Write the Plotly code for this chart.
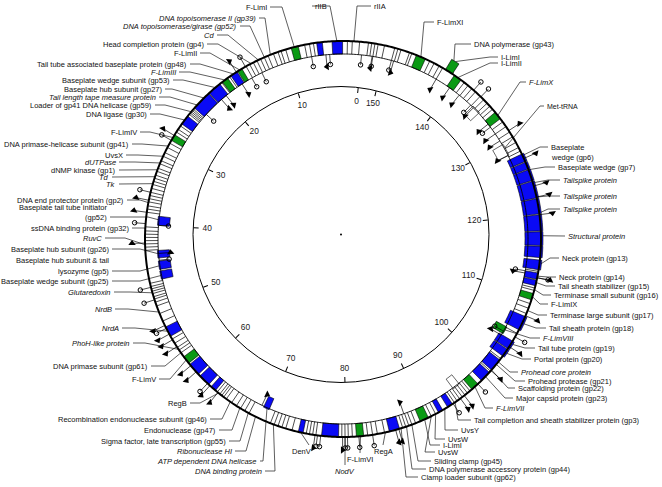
import numpy as np
import plotly.graph_objects as go

W, H = 662, 487
GENOME_KB = 153.0
ZERO_CW_DEG = 6.7  # where 0 kb sits, degrees clockwise from 12 o'clock

RING_CX, RING_CY, RING_RP = 343, 239, 236
SCALE_CX, SCALE_CY, SCALE_R = 341, 234.5, 148
TRACKS = {"inner": (174, 186), "mid": (185, 198), "outer": (198, 210), "wide": (182, 200)}
FONT = "Liberation Sans, Arial, sans-serif"
BLUE, GREEN = "#0a0af5", "#0a9a14"

# ---------------- data (kb) ----------------
SCALE_TICKS = [0, 10, 20, 30, 40, 50, 60, 70, 80, 90, 100, 110, 120, 130, 140, 150]

BLUE_START = [2.9, 5.4, 16.6, 19.2, 21.0, 24.8, 38.1, 42.6, 44.0, 45.3, 52.3, 57.8, 59.7, 61.6,
              68.6, 73.8, 76.7, 85.1, 91.6, 92.9, 98.2, 100.0, 102.2, 103.3, 106.0, 111.8, 112.6,
              113.8, 115.3, 116.8, 118.6, 120.7, 122.7, 124.9, 126.4, 127.4]
BLUE_END = [4.2, 6.1, 17.5, 20.9, 23.5, 26.0, 39.3, 43.6, 45.1, 46.4, 53.6, 59.4, 61.2, 62.3,
            69.4, 74.4, 78.8, 86.4, 92.2, 93.6, 99.6, 101.6, 103.2, 104.4, 107.8, 112.5, 113.4,
            115.0, 116.7, 118.5, 120.6, 122.6, 124.8, 126.3, 127.3, 128.4]
BLUE_TRACK = ["mid", "mid", "mid", "mid", "mid", "mid", "inner", "inner", "inner", "inner", "mid",
              "mid", "mid", "mid", "inner", "mid", "mid", "mid", "mid", "mid", "mid", "mid", "wide",
              "wide", "wide", "mid", "mid", "wide", "wide", "wide", "wide", "wide", "wide", "wide",
              "wide", "wide"]

GREEN_START = [8.4, 15.9, 18.0, 27.6, 56.6, 81.0, 89.1, 96.6, 104.6, 110.0, 133.5, 140.3, 141.6, 145.4]
GREEN_END = [9.3, 16.5, 18.8, 28.4, 57.6, 81.9, 90.2, 97.6, 105.6, 110.8, 134.5, 141.3, 142.6, 146.6]
GREEN_TRACK = ["mid", "mid", "mid", "mid", "mid", "mid", "mid", "mid", "inner", "mid", "mid",
               "mid", "outer", "mid"]

WHITE_START = [129.0, 135.8, 94.8]
WHITE_END = [130.6, 137.0, 95.8]

BOUNDARIES = [0.8, 1.7, 2.3, 6.5, 7.0, 7.6, 10.0, 10.6, 11.0, 11.6, 12.3, 12.8, 13.3, 13.8, 14.3,
              14.8, 15.3, 17.7, 18.9, 23.7, 23.9, 24.1, 24.3, 24.5, 26.3, 26.8, 27.2, 28.8, 29.4,
              30.1, 30.6, 31.2, 31.6, 32.2, 32.6, 33.1, 33.5, 33.9, 34.3, 34.8, 35.3, 35.7, 36.1,
              36.5, 37.0, 37.4, 37.8, 39.6, 40.1, 40.5, 40.9, 41.3, 41.7, 42.1, 42.5, 46.6, 47.0,
              47.3, 47.6, 47.9, 48.3, 48.6, 49.0, 49.5, 50.5, 51.5, 54.0, 54.6, 55.2, 55.6, 56.0,
              62.6, 63.0, 63.3, 63.6, 64.0, 64.8, 65.5, 66.1, 66.7, 67.3, 70.2, 70.7, 71.2, 71.7,
              72.2, 73.0, 74.8, 75.2, 75.6, 76.0, 79.2, 79.6, 80.0, 80.5, 82.4, 83.0, 83.6, 84.5,
              86.8, 87.2, 87.6, 88.0, 88.5, 90.6, 91.2, 93.9, 94.3, 94.7, 95.1, 95.5, 95.9, 96.3,
              99.8, 101.8, 105.5, 108.2, 108.9, 109.5, 111.2, 111.5, 113.6, 128.8, 129.3, 130.0,
              130.8, 131.5, 132.3, 133.0, 135.0, 135.5, 136.0, 136.6, 137.2, 138.0, 138.6, 139.2,
              139.8, 143.0, 143.5, 144.2, 144.8, 147.2, 147.5, 148.6, 149.0, 149.4, 150.7, 151.5,
              151.9, 152.3, 152.7]

PROMOTER_KB = [5.1, 16.9, 19.5, 20.3, 43.0, 68.3, 87.5, 104.3, 113.1, 129.0, 131.2, 132.3, 133.9,
               136.8, 139.3, 140.9, 143.0, 149.1, 152.0,
               16.7, 27.7, 36.3, 37.8, 41.6, 52.1, 53.3, 54.1, 55.1, 58.0, 59.0, 61.4, 62.7, 75.9,
               79.3, 85.9, 86.3, 94.8, 95.4, 99.9, 103.6, 107.9, 112.8, 120.6, 122.8, 124.2, 127.8,
               131.7]
PROMOTER_SIDE = ["in"] * 19 + ["out"] * 28
PROMOTER_DIR = [1, -1, -1, 1, -1, 1, 1, 1, -1, 1, 1, 1, 1, 1, 1, 1, 1, -1, 1,
                -1, -1, -1, -1, -1, 1, 1, 1, 1, 1, 1, 1, 1, 1, 1, -1, -1, 1, 1, 1, 1, 1, 1, -1,
                -1, -1, -1, 1]

TERMINATOR_KB = [0.4, 4.6, 7.0, 13.9, 15.4, 149.4, 151.9, 23.1, 39.3, 43.9, 113.4, 104.9, 133.4,
                 137.3,
                 15.4, 28.4, 35.3, 39.2, 47.1, 48.7, 52.5, 61.0, 76.2, 76.6, 79.6, 79.9, 81.3, 83.0,
                 97.6, 112.8, 105.0, 93.7, 138.3, 137.1]
TERMINATOR_SIDE = ["in"] * 14 + ["out"] * 20

# labels: text, target kb, target track
LABEL_TEXT = [
    "<i>DNA topoisomerase II (gp39)</i>", "<i>DNA topoisomerase/girase (gp52)</i>", "<i>Cd</i>",
    "Head completion protein (gp4)", "F-LimII", "Tail tube associated baseplate protein (gp48)",
    "<i>F-LimIII</i>", "Baseplate wedge subunit (gp53)", "Baseplate hub subunit (gp27)",
    "<i>Tail length tape measure protein</i>", "Loader of gp41 DNA helicase (gp59)",
    "DNA ligase (gp30)", "F-LimIV", "DNA primase-helicase subunit (gp41)", "UvsX",
    "<i>dUTPase</i>", "dNMP kinase (gp1)", "<i>Td</i>", "<i>Tk</i>",
    "DNA end protector protein (gp2)", "(gp52)", "ssDNA binding protein (gp32)", "<i>RuvC</i>",
    "Baseplate hub subunit (gp26)", "lysozyme (gp5)", "Baseplate wedge subunit (gp25)",
    "<i>Glutaredoxin</i>", "<i>NrdB</i>", "<i>NrdA</i>", "<i>PhoH-like protein</i>",
    "DNA primase subunit (gp61)", "F-LimV", "RegB", "Recombination endonuclease subunit (gp46)",
    "Endonuclease (gp47)", "Sigma factor, late transcription (gp55)", "<i>Ribonuclease HI</i>",
    "<i>ATP dependent DNA helicase</i>", "<i>DNA binding protein</i>",
    "DenV", "<i>NodV</i>", "F-LimVI", "RegA",
    "Clamp loader subunit (gp62)", "DNA polymerase accessory protein (gp44)",
    "Sliding clamp (gp45)", "UvsW", "I-LimI", "UvsW", "UvsY",
    "Tail completion and sheath stabilizer protein (gp3)", "<i>F-LimVII</i>",
    "Major capsid protein (gp23)", "Scaffolding protein (gp22)", "Prohead protease (gp21)",
    "<i>Prohead core protein</i>", "Portal protein (gp20)", "Tail tube protein (gp19)",
    "<i>F-LimVIII</i>", "Tail sheath protein (gp18)", "Terminase large subunit (gp17)", "F-LimIX",
    "Terminase small subunit (gp16)", "Tail sheath stabilizer (gp15)", "Neck protein (gp14)",
    "Neck protein (gp13)", "<i>Structural protein</i>", "<i>Tailspike protein</i>",
    "<i>Tailspike protein</i>", "<i>Tailspike protein</i>", "Baseplate wedge (gp7)", "Baseplate",
    "Met-tRNA", "<i>F-LimX</i>", "I-LimII", "I-LimI", "DNA polymerase (gp43)", "F-LimXI",
    "rIIA", "rIIB", "F-LimI"]
LABEL_KB = [12.0, 12.8, 13.6, 14.6, 16.2, 17.1, 18.4, 19.9, 21.8, 23.0, 24.1, 25.4, 28.0, 29.2,
            30.6, 31.5, 32.4, 33.3, 34.2, 36.6, 38.6, 39.9, 41.8, 43.1, 44.6, 45.9, 47.8, 50.3,
            52.9, 55.5, 56.0, 57.1, 62.8, 64.6, 66.0, 67.2, 68.2, 69.0, 70.6,
            74.1, 79.6, 81.5, 84.6,
            86.6, 87.3, 88.0, 90.6, 89.7, 91.2, 92.5, 94.0, 97.1, 98.9, 100.0, 100.9, 101.3,
            102.7, 104.0, 105.1, 106.9, 108.6, 110.4, 111.3, 112.2, 113.0, 114.4, 118.0, 120.8,
            122.8, 124.6, 126.3, 128.2, 130.0, 134.0, 140.8, 142.1, 141.5, 146.0,
            1.5, 3.6, 8.9]
LABEL_TRACK = ["mid"] * 20 + ["inner", "mid", "mid", "inner", "inner", "inner"] + ["mid"] * 11 + \
              ["inner", "mid"] + ["mid"] * 4 + ["mid"] * 15 + ["inner"] + ["mid"] * 13 + \
              ["inner", "mid", "mid", "outer", "mid", "mid", "mid", "mid", "mid"]

# label layout (pixel positions, side: L = text ends at x, R = text starts at x, B = centred)
LABEL_X = [257, 238, 215, 205, 198, 188, 177, 171, 163, 157, 153, 148, 138, 130, 124, 117, 117,
           110, 117, 125, 108, 130, 103, 110, 110, 110, 112, 113, 120, 131, 149, 157, 188, 208,
           217, 227, 233, 258, 263,
           301, 345, 360, 383,
           420, 428, 433, 437, 442, 447, 460, 473, 495, 515, 517, 527, 520, 533, 537, 542, 548,
           549, 550, 553, 557, 558, 561, 567, 562, 562, 562, 557, 550, 546, 528, 500, 500, 473,
           436, 373, 314, 268]
LABEL_Y = [18, 26, 35, 44, 53, 64, 72, 80, 89, 97, 105, 114, 132, 144, 155, 162, 170, 177, 184,
           200, 217, 228, 238, 249, 271, 281, 292, 309, 328, 343, 366, 379, 403, 419, 430, 441,
           451, 461, 471,
           451, 471, 459, 451,
           477, 469, 461, 452, 445, 439, 430, 420, 408, 398, 388, 381, 372, 359, 348, 338, 328,
           315, 304, 295, 286, 277, 258, 236, 209, 196, 180, 167, 147, 106, 82, 63, 57, 44, 22,
           6, 6, 7]
LABEL_SIDE = ["L"] * 39 + ["B"] * 4 + ["R"] * 36 + ["R", "L", "L"]
LABEL_ELBOW = [265, 250, 228, 218, 210, 200, 190, 183, 172, 170, 165, 160, 150, 142, 138, 135, 135,
               130, 130, 140, 148, 145, 125, 140, 140, 140, 130, 128, 135, 145, 165, 170, 200, 222,
               232, 240, 246, 263, 275,
               309, 345, 360, 383,
               406, 412, 418, 425, 430, 435, 445, 458, 485, 505, 508, 515, 510, 522, 525, 530, 536,
               538, 540, 543, 546, 548, 550, 550, 548, 548, 548, 545, 540, 540, 520, 490, 490, 455,
               424, 357, 330, 282]

EXTRA_TEXT = ["Baseplate tail tube initiator", "Baseplate hub subunit & tail", "wedge (gp6)"]
EXTRA_X = [108, 110, 550]
EXTRA_Y = [207, 260, 157]
EXTRA_SIDE = ["L", "L", "R"]


# ---------------- helpers ----------------
def deg(kb):
    return np.asarray(kb, dtype=float) * 360.0 / GENOME_KB


def ring_xy(kb, r):
    a = np.radians(ZERO_CW_DEG - kb * 360.0 / GENOME_KB)
    return RING_CX + r * np.sin(a), RING_CY - r * np.cos(a)


def domain(cx, cy, r):
    return dict(x=[(cx - r) / W, (cx + r) / W], y=[(H - cy - r) / H, (H - cy + r) / H])


def bars(starts, ends, tracks, color, name):
    s, e = np.asarray(starts), np.asarray(ends)
    base = [TRACKS[t][0] for t in tracks]
    length = [TRACKS[t][1] - TRACKS[t][0] for t in tracks]
    return go.Barpolar(theta=deg((s + e) / 2), width=deg(e - s), base=base, r=length,
                       marker=dict(color=color, line=dict(color="black", width=0.6)),
                       subplot="polar", name=name, hoverinfo="skip", showlegend=False)


fig = go.Figure()

# ring circles
circ = np.linspace(0, 360, 721)
fig.add_trace(go.Scatterpolar(r=[TRACKS["mid"][1]] * len(circ), theta=circ, mode="lines",
                              line=dict(color="black", width=2), subplot="polar",
                              showlegend=False, hoverinfo="skip"))
fig.add_trace(go.Scatterpolar(r=[TRACKS["mid"][0]] * len(circ), theta=circ, mode="lines",
                              line=dict(color="black", width=0.9), subplot="polar",
                              showlegend=False, hoverinfo="skip"))

# gene boundaries
bt, br = [], []
for b in BOUNDARIES:
    bt += [float(deg(b)), float(deg(b)), None]
    br += [TRACKS["mid"][0], TRACKS["mid"][1], None]
fig.add_trace(go.Scatterpolar(r=br, theta=bt, mode="lines", line=dict(color="black", width=0.7),
                              subplot="polar", showlegend=False, hoverinfo="skip", connectgaps=False))

fig.add_trace(bars(WHITE_START, WHITE_END, ["inner"] * len(WHITE_START), "white", "other"))
fig.add_trace(bars(BLUE_START, BLUE_END, BLUE_TRACK, BLUE, "structural"))
fig.add_trace(bars(GREEN_START, GREEN_END, GREEN_TRACK, GREEN, "homing endonuclease"))

# promoters / terminators with stalks
def stalks(kbs, sides, r_in_mark, r_out_mark):
    th, rr, mr = [], [], []
    for k, s in zip(kbs, sides):
        t = float(deg(k))
        if s == "in":
            th += [t, t, None]; rr += [TRACKS["mid"][0], r_in_mark, None]; mr.append(r_in_mark)
        else:
            th += [t, t, None]; rr += [TRACKS["mid"][1], r_out_mark, None]; mr.append(r_out_mark)
    return th, rr, mr

pt, pr, pm = stalks(PROMOTER_KB, PROMOTER_SIDE, 173, 211)
tt, tr, tm = stalks(TERMINATOR_KB, TERMINATOR_SIDE, 175, 209)
fig.add_trace(go.Scatterpolar(r=pr + tr, theta=pt + tt, mode="lines",
                              line=dict(color="black", width=0.7), subplot="polar",
                              showlegend=False, hoverinfo="skip"))
p_angle = [ZERO_CW_DEG - float(deg(k)) - 90 * d for k, d in zip(PROMOTER_KB, PROMOTER_DIR)]
fig.add_trace(go.Scatterpolar(r=pm, theta=deg(PROMOTER_KB), mode="markers",
                              marker=dict(symbol="triangle-up", size=6.5, color="black",
                                          angle=p_angle),
                              subplot="polar", showlegend=False, hoverinfo="skip"))
fig.add_trace(go.Scatterpolar(r=tm, theta=deg(TERMINATOR_KB), mode="markers",
                              marker=dict(symbol="circle-open", size=4.5, color="black",
                                          line=dict(width=1)),
                              subplot="polar", showlegend=False, hoverinfo="skip"))

# scale circle labels and centre dot
fig.add_trace(go.Scatterpolar(r=[SCALE_R - 14] * len(SCALE_TICKS), theta=deg(SCALE_TICKS),
                              mode="text", text=[str(t) for t in SCALE_TICKS],
                              textfont=dict(family=FONT, size=8.4, color="#222"),
                              subplot="polar2", showlegend=False, hoverinfo="skip"))
fig.add_trace(go.Scatterpolar(r=[0], theta=[0], mode="markers",
                              marker=dict(size=2, color="black"), subplot="polar2",
                              showlegend=False, hoverinfo="skip"))

# leader lines
lx, ly = [], []
for kb, trk, side, x, y, ex in zip(LABEL_KB, LABEL_TRACK, LABEL_SIDE, LABEL_X, LABEL_Y, LABEL_ELBOW):
    r_end = {"inner": 184, "mid": 198, "outer": 210, "wide": 200}[trk]
    gx, gy = ring_xy(kb, r_end)
    if side == "L":
        lx += [x + 2, ex, gx, None]; ly += [y, y, gy, None]
    elif side == "R":
        lx += [x - 2, ex, gx, None]; ly += [y, y, gy, None]
    else:
        lx += [ex, gx, None]; ly += [y - 6, gy, None]
fig.add_trace(go.Scatter(x=lx, y=ly, mode="lines", line=dict(color="#2a2a2a", width=0.75),
                         xaxis="x", yaxis="y", showlegend=False, hoverinfo="skip"))

annotations = []
for txt, side, x, y in list(zip(LABEL_TEXT, LABEL_SIDE, LABEL_X, LABEL_Y)) + \
        list(zip(EXTRA_TEXT, EXTRA_SIDE, EXTRA_X, EXTRA_Y)):
    anchor = {"L": "right", "R": "left", "B": "center"}[side]
    size = 7.0 if txt == "Met-tRNA" else 7.5
    annotations.append(dict(x=x, y=y, xref="x", yref="y", text=txt, showarrow=False,
                            xanchor=anchor, yanchor="middle", borderpad=0,
                            font=dict(family=FONT, size=size, color="#111111")))

rot = 90 - ZERO_CW_DEG
fig.update_layout(
    width=W, height=H, margin=dict(l=0, r=0, t=0, b=0),
    paper_bgcolor="white", plot_bgcolor="rgba(0,0,0,0)",
    xaxis=dict(range=[0, W], domain=[0, 1], visible=False, fixedrange=True),
    yaxis=dict(range=[H, 0], domain=[0, 1], visible=False, fixedrange=True),
    polar=dict(domain=domain(RING_CX, RING_CY, RING_RP), bgcolor="rgba(0,0,0,0)",
               radialaxis=dict(range=[0, RING_RP], visible=False),
               angularaxis=dict(rotation=rot, direction="counterclockwise", visible=False)),
    polar2=dict(domain=domain(SCALE_CX, SCALE_CY, SCALE_R), bgcolor="rgba(0,0,0,0)",
                radialaxis=dict(range=[0, SCALE_R], visible=False),
                angularaxis=dict(rotation=rot, direction="counterclockwise",
                                 tickvals=deg(SCALE_TICKS), ticks="inside", ticklen=5,
                                 tickcolor="black", showticklabels=False, showgrid=False,
                                 showline=True, linecolor="black", linewidth=1)),
    annotations=annotations,
    bargap=0,
)
fig.write_html("out.html", config={"displayModeBar": False},
               post_script="document.body.style.margin='0px';document.body.style.overflow='hidden';")
